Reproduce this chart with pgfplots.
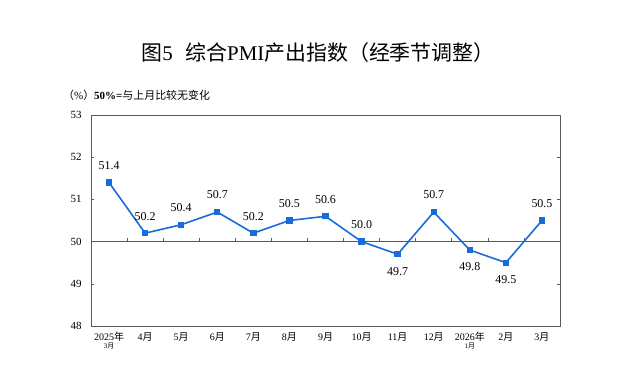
\documentclass[border=0pt]{standalone}
\usepackage{pgfplots}
\pgfplotsset{compat=1.18}
\usepackage{pgfplotstable}
\usepackage{fontspec}
\setmainfont{Liberation Serif}
\newfontfamily\cjk{Noto Sans CJK SC}
\definecolor{pmiblue}{RGB}{24,108,214}
\definecolor{boxgray}{RGB}{90,90,90}
\pgfplotstableread{
x y pos
0 51.4 17
1 50.2 17
2 50.4 17
3 50.7 17
4 50.2 17
5 50.5 17
6 50.6 17
7 50.0 17
8 49.7 -17
9 50.7 17
10 49.8 -17
11 49.5 -17
12 50.5 17
}\pmidata
\begin{document}
\begin{tikzpicture}
\begin{axis}[
  at={(91bp,60bp)}, anchor=south west,
  scale only axis, width=469bp, height=211bp,
  xmin=-0.5, xmax=12.5, ymin=48, ymax=53,
  ytick={48,49,50,51,52,53},
  xtick={0,...,12},
  xticklabels={{2025{\cjk 年}\\[-3pt]{\scriptsize 3\cjk 月}},4{\cjk 月},5{\cjk 月},6{\cjk 月},7{\cjk 月},8{\cjk 月},9{\cjk 月},10{\cjk 月},11{\cjk 月},12{\cjk 月},{2026{\cjk 年}\\[-3pt]{\scriptsize 1\cjk 月}},2{\cjk 月},3{\cjk 月}},
  xticklabel style={align=center, font=\fontsize{10}{11}\selectfont, anchor=north, yshift=-3bp},
  yticklabel style={font=\fontsize{11}{12}\selectfont, xshift=-6bp},
  /pgf/number format/assume math mode=true,
  major x tick style={draw=none},
  tick align=inside,
  major tick length=3bp,
  ytick style={boxgray, line width=0.6pt},
  axis line style={draw=boxgray, line width=0.9pt},
  clip=false,
  nodes near coords,
  point meta=explicit,
  visualization depends on={\thisrow{pos} \as \labpos},
  every node near coord/.style={anchor=center, yshift=\labpos bp, font=\fontsize{12}{13}\selectfont, text=black,
    /pgf/number format/.cd, fixed, precision=1, zerofill, assume math mode=true},
]
\draw[boxgray, line width=0.9pt] (axis cs:-0.5,50) -- (axis cs:12.5,50);
\pgfplotsinvokeforeach{0.5,1.5,2.5,3.5,4.5,5.5,6.5,7.5,8.5,9.5,10.5,11.5}{
  \draw[boxgray, line width=0.6pt] (axis cs:#1,50) -- (axis cs:#1,50.09);
}
\addplot[pmiblue, line width=1.6pt, mark=square*, mark size=2.4bp, mark options={solid}]
  table[x=x, y=y, meta=y] {\pmidata};
\end{axis}
\node[anchor=center, font=\fontsize{21}{23}\selectfont] at (318bp,333bp) {{\cjk 图}5\hspace{0.6em}{\cjk 综合}PMI{\cjk 产出指数（经季节调整）}};
\node[anchor=west, font=\fontsize{11}{12}\selectfont, inner sep=0pt] at (63bp,291bp) {{\cjk （}\%{\cjk ）}\textbf{50\%=}{\cjk 与上月比较无变化}};
\pgfresetboundingbox
\useasboundingbox (0,0) rectangle (628bp,386bp);
\end{tikzpicture}
\end{document}
